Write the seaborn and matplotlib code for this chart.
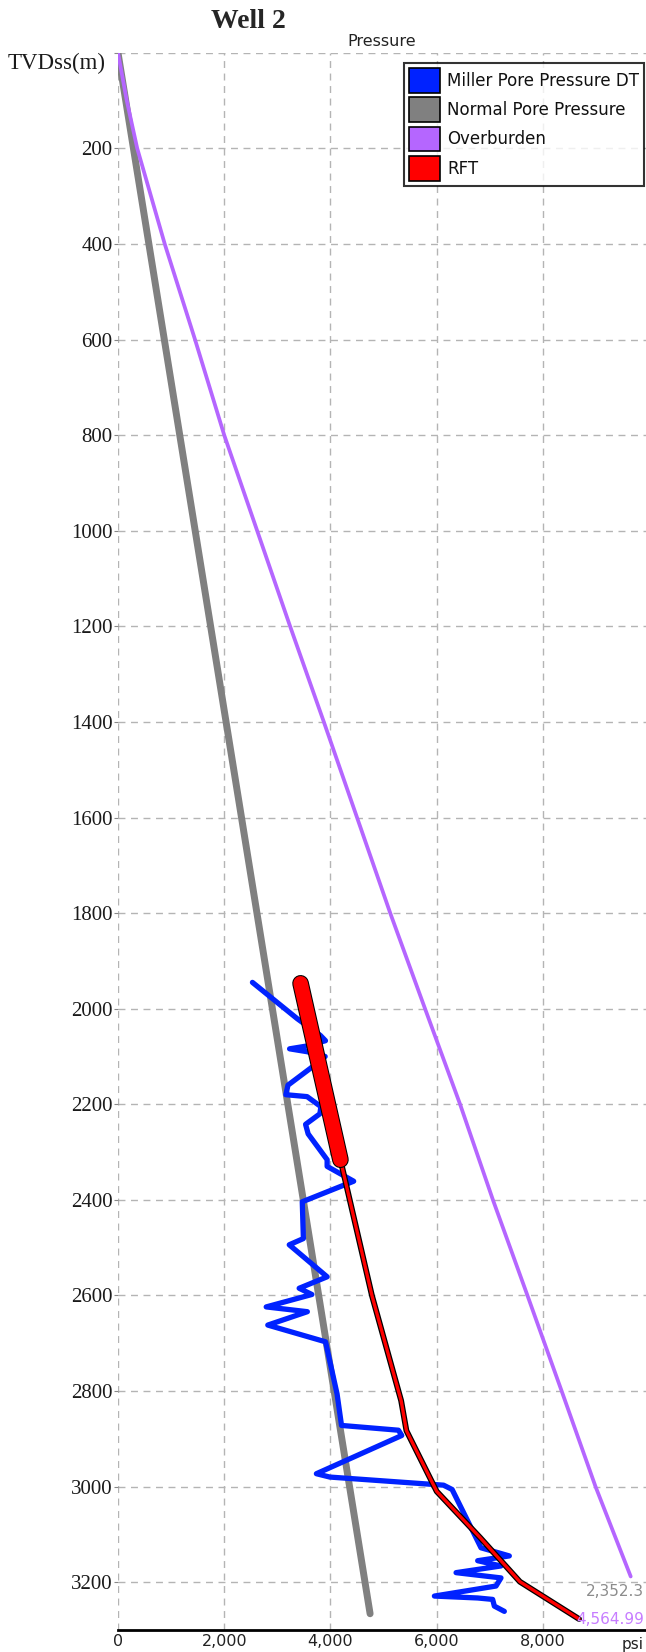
import matplotlib
matplotlib.use("Agg")
import matplotlib.pyplot as plt
import matplotlib.patheffects as pe
from matplotlib.patches import Patch
from matplotlib.ticker import FuncFormatter
import seaborn as sns

# TVDss (m) vs pressure (psi)
ob_depth = [0, 100, 200, 400, 600, 800, 1000, 1200, 1400, 1600, 1800, 2000,
            2200, 2400, 2600, 2800, 3000, 3188]
ob_psi = [0, 165, 362, 880, 1450, 2000, 2620, 3240, 3875, 4500, 5125, 5780,
          6440, 7058, 7708, 8352, 8990, 9652]

npp_depth = [0, 3266]
npp_psi = [0, 4746]

miller_depth = [1945, 2021, 2056, 2067, 2078, 2084, 2090, 2100, 2125, 2160,
                2180, 2184, 2205, 2220, 2242, 2262, 2316, 2330, 2361, 2404,
                2481, 2494, 2561, 2585, 2598, 2624, 2634, 2662, 2697, 2806,
                2872, 2882, 2893, 2973, 2980, 2997, 3006, 3128, 3145, 3155,
                3166, 3180, 3191, 3208, 3229, 3233, 3236, 3250, 3261]
miller_psi = [2531, 3375, 3810, 3906, 3560, 3230, 3560, 3900, 3620, 3200,
              3160, 3560, 3820, 3800, 3531, 3580, 3937, 3937, 4437, 3469,
              3490, 3224, 3937, 3410, 3650, 2790, 3565, 2820, 3907, 4124,
              4208, 5280, 5342, 3735, 3987, 6130, 6290, 6834, 7367, 6771,
              7210, 6364, 7210, 7116, 5956, 6771, 7053, 7085, 7273]

rft_depth = [1947, 2316]
rft_psi = [3437, 4187]

trend_depth = [2316, 2600, 2820, 2883, 3010, 3107, 3199, 3277]
trend_psi = [4187, 4780, 5330, 5430, 6000, 6820, 7566, 8680]

c_blue = "#0022ff"
c_gray = "#808080"
c_purple = "#b566ff"
c_red = "#ff0000"

sns.set_style("white")

W, H = 646, 1652
fig = plt.figure(figsize=(W / 100, H / 100), dpi=100)
ax = fig.add_axes([118 / W, 1 - 1630 / H, 1 - 118 / W, (1630 - 52.8) / H])

sns.lineplot(x=npp_psi, y=npp_depth, sort=False, estimator=None, ax=ax,
             color=c_gray, linewidth=5)
sns.lineplot(x=ob_psi, y=ob_depth, sort=False, estimator=None, ax=ax,
             color=c_purple, linewidth=2.7)
sns.lineplot(x=miller_psi, y=miller_depth, sort=False, estimator=None, ax=ax,
             color=c_blue, linewidth=3.8)
sns.lineplot(x=trend_psi, y=trend_depth, sort=False, estimator=None, ax=ax,
             color=c_red, linewidth=2.4,
             path_effects=[pe.Stroke(linewidth=4.2, foreground="black"), pe.Normal()])
sns.lineplot(x=rft_psi, y=rft_depth, sort=False, estimator=None, ax=ax,
             color=c_red, linewidth=10.5, solid_capstyle="round",
             path_effects=[pe.Stroke(linewidth=12, foreground="black",
                                     capstyle="round"), pe.Normal()])

ax.set_xlim(0, 9940)
ax.set_ylim(3300, 0)
ax.set_xticks(range(0, 9000, 2000))
ax.set_yticks(range(0, 3300, 200))
ax.xaxis.set_major_formatter(FuncFormatter(lambda v, p: f"{int(v):,}"))
ax.yaxis.set_major_formatter(FuncFormatter(lambda v, p: "" if v == 0 else f"{int(v)}"))
ax.grid(True, linestyle=(0, (5, 4)), color="#b4b4b4", linewidth=1)
ax.set_xlabel("")
ax.set_ylabel("")

for s in ["left", "top", "right"]:
    ax.spines[s].set_visible(False)
ax.spines["bottom"].set_color("black")
ax.spines["bottom"].set_linewidth(2)

ax.tick_params(axis="x", length=0, pad=3, labelsize=11.5, labelcolor="#222222")
ax.tick_params(axis="y", length=3, pad=1, labelsize=15, labelcolor="#1a1a1a",
               color="#888888", left=True)
for lab in ax.get_yticklabels():
    lab.set_fontfamily("Liberation Serif")

fig.text(248 / W, 1 - 22 / H, "Well 2", ha="center", va="center",
         fontsize=20, fontweight="bold", family="Liberation Serif")
fig.text(382 / W, 1 - 41 / H, "Pressure", ha="center", va="center",
         fontsize=11.5, color="#222222")
fig.text(106 / W, 1 - 63 / H, "TVDss(m)", ha="right", va="center",
         fontsize=16.5, family="Liberation Serif", color="#1a1a1a")
fig.text(644 / W, 1 - 1592 / H, "2,352.3", ha="right", va="center",
         fontsize=11, color="#8c8c8c")
fig.text(644 / W, 1 - 1620 / H, "4,564.99", ha="right", va="center",
         fontsize=11, color="#c77dff")
fig.text(644 / W, 1 - 1644 / H, "psi", ha="right", va="center",
         fontsize=11, color="#222222")

handles = [Patch(facecolor=c, edgecolor="black", linewidth=1.2)
           for c in [c_blue, c_gray, c_purple, c_red]]
labels = ["Miller Pore Pressure DT", "Normal Pore Pressure", "Overburden", "RFT"]
leg = fig.legend(handles, labels, loc="upper right",
                 bbox_to_anchor=(644 / W, 1 - 63 / H), bbox_transform=fig.transFigure,
                 fontsize=12, frameon=True, fancybox=False, borderaxespad=0,
                 borderpad=0.3, handlelength=1.9, handleheight=1.9,
                 labelspacing=0.28, handletextpad=0.4)
leg.get_frame().set_edgecolor("black")
leg.get_frame().set_linewidth(1.5)
for t in leg.get_texts():
    t.set_color("#111111")

fig.savefig("out.png", dpi=100)
